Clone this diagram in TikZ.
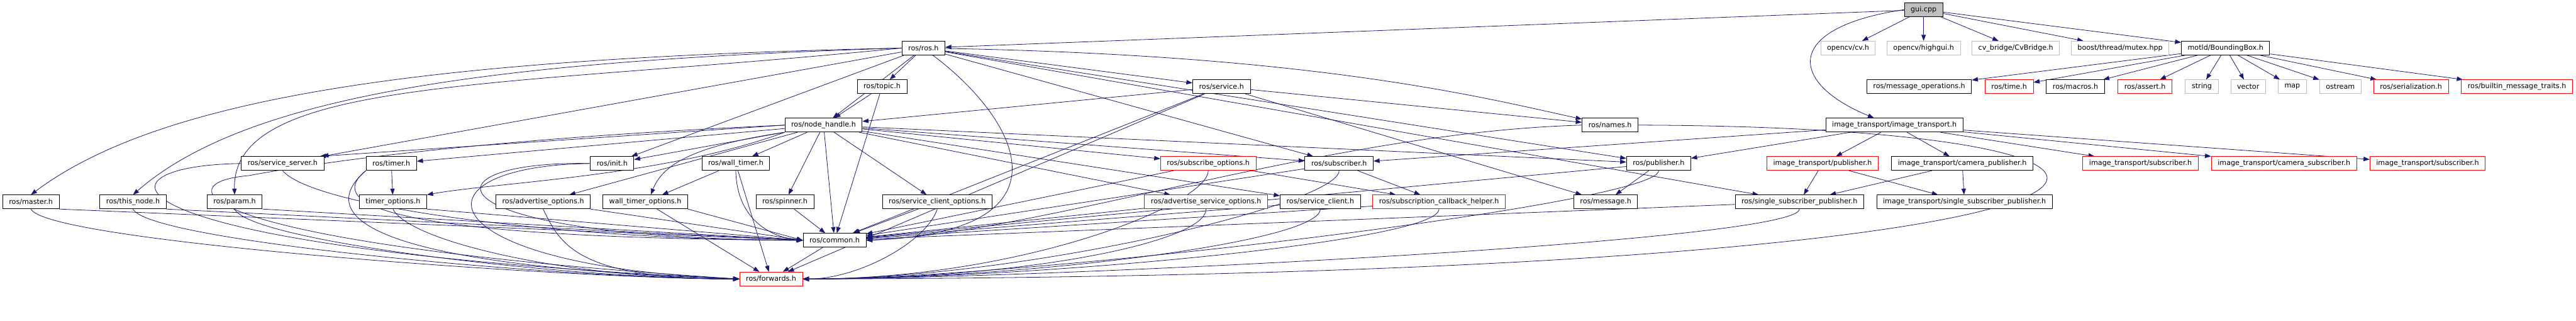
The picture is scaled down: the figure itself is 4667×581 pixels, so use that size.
\documentclass[tikz,border=0pt]{standalone}
\usepackage{fontspec}
\setmainfont{DejaVu Sans}
\usepackage{xcolor}
\usepackage{tikz}
\usetikzlibrary{arrows.meta, backgrounds}
\definecolor{edgeblue}{RGB}{25, 25, 112}
\definecolor{extgray}{RGB}{191, 191, 191}
\definecolor{truncred}{RGB}{255, 0, 0}

\begin{document}
\begin{tikzpicture}[
    x=1pt, y=1pt,
    hdr/.style={rectangle, draw=black, fill=white, line width=1pt, minimum height=25pt, inner xsep=11.5pt, inner ysep=0pt, font=\fontsize{12.7pt}{15pt}\selectfont},
    trunc/.style={hdr, draw=truncred},
    ext/.style={hdr, draw=extgray},
    root/.style={hdr, fill=extgray},
    arrow/.style={-{Triangle[length=11pt, width=8pt]}, draw=edgeblue, line width=0.9pt}
]
    \useasboundingbox (0,0) rectangle (4667,-581);

    \node[root] (gui) at (3485,-17.5) {gui.cpp};

    \node[hdr] (ros) at (1673,-87) {ros/ros.h};
    \node[ext] (cv) at (3348,-87) {opencv/cv.h};
    \node[ext] (highgui) at (3485,-87) {opencv/highgui.h};
    \node[ext] (cvbridge) at (3652,-87) {cv\_bridge/CvBridge.h};
    \node[ext] (mutex) at (3841,-87) {boost/thread/mutex.hpp};
    \node[hdr] (bbox) at (4032,-87) {motld/BoundingBox.h};

    \node[hdr] (topic) at (1598,-157) {ros/topic.h};
    \node[hdr] (service) at (2213,-157) {ros/service.h};
    \node[hdr] (msgops) at (3477,-157) {ros/message\_operations.h};
    \node[trunc] (time) at (3640,-157) {ros/time.h};
    \node[hdr] (macros) at (3760,-157) {ros/macros.h};
    \node[trunc] (assert) at (3886,-157) {ros/assert.h};
    \node[ext] (string) at (3989,-157) {string};
    \node[ext] (vector) at (4073,-157) {vector};
    \node[ext] (map) at (4153,-157) {map};
    \node[ext] (ostream) at (4240,-157) {ostream};
    \node[trunc] (serial) at (4368,-157) {ros/serialization.h};
    \node[trunc] (traits) at (4560,-157) {ros/builtin\_message\_traits.h};

    \node[hdr] (nh) at (1492,-226.5) {ros/node\_handle.h};
    \node[hdr] (names) at (2917,-226.5) {ros/names.h};
    \node[hdr] (itrans) at (3432,-226.5) {image\_transport/image\_transport.h};

    \node[hdr] (srvserver) at (512,-296) {ros/service\_server.h};
    \node[hdr] (timer) at (709,-296) {ros/timer.h};
    \node[hdr] (init) at (1109,-296) {ros/init.h};
    \node[hdr] (walltimer) at (1333,-296) {ros/wall\_timer.h};
    \node[trunc] (subopts) at (2189,-296) {ros/subscribe\_options.h};
    \node[hdr] (sub) at (2426,-296) {ros/subscriber.h};
    \node[hdr] (pub) at (3005,-296) {ros/publisher.h};
    \node[trunc] (itpub) at (3302,-296) {image\_transport/publisher.h};
    \node[hdr] (itcampub) at (3555,-296) {image\_transport/camera\_publisher.h};
    \node[trunc] (itsuba) at (3878,-296) {image\_transport/subscriber.h};
    \node[trunc] (itcamsub) at (4138,-296) {image\_transport/camera\_subscriber.h};
    \node[trunc] (itsubb) at (4398,-296) {image\_transport/subscriber.h};

    \node[hdr] (master) at (56,-365.5) {ros/master.h};
    \node[hdr] (thisnode) at (241,-365.5) {ros/this\_node.h};
    \node[hdr] (param) at (425,-365.5) {ros/param.h};
    \node[hdr] (timeropts) at (712,-365.5) {timer\_options.h};
    \node[hdr] (advopts) at (984,-365.5) {ros/advertise\_options.h};
    \node[hdr] (walltimeropts) at (1169,-365.5) {wall\_timer\_options.h};
    \node[hdr] (spinner) at (1422,-365.5) {ros/spinner.h};
    \node[hdr] (srvclientopts) at (1698,-365.5) {ros/service\_client\_options.h};
    \node[trunc] (advsrvopts) at (2185,-365.5) {ros/advertise\_service\_options.h};
    \node[hdr] (srvclient) at (2392,-365.5) {ros/service\_client.h};
    \node[trunc] (subcbhelper) at (2607,-365.5) {ros/subscription\_callback\_helper.h};
    \node[hdr] (message) at (2909,-365.5) {ros/message.h};
    \node[hdr] (ssp) at (3260,-365.5) {ros/single\_subscriber\_publisher.h};
    \node[hdr] (itssp) at (3559,-365.5) {image\_transport/single\_subscriber\_publisher.h};

    \node[hdr] (common) at (1512,-435) {ros/common.h};
    \node[trunc] (fwd) at (1397,-505) {ros/forwards.h};

    \begin{scope}[on background layer]
    \foreach \dst in {ros, cv, highgui, cvbridge, mutex, bbox}
        \draw[arrow] (gui) -- (\dst);
    \draw[arrow] (gui.west) .. controls (3230,-50) and (3240,-150) .. ([xshift=-37pt]itrans.north);

    \foreach \dst in {msgops, time, macros, assert, string, vector, map, ostream, serial, traits}
        \draw[arrow] (bbox) -- (\dst);

    \foreach \dst in {itpub, itcampub, itsuba, itcamsub, itsubb, sub, pub}
        \draw[arrow] (itrans) -- (\dst);
    \foreach \src in {itpub, itcampub} {
        \draw[arrow] (\src) -- (ssp);
        \draw[arrow] (\src) -- (itssp);
    }

    \draw[arrow] (ros.west) .. controls (800,-105) and (300,-170) .. (master.north);
    \draw[arrow] (ros.west) .. controls (900,-110) and (450,-170) .. (thisnode.north);
    \draw[arrow] (ros.west) .. controls (900,-160) and (420,-140) .. (param.north);
    \foreach \dst in {srvserver, init, nh, topic, service, sub, pub, ssp}
        \draw[arrow] (ros) -- (\dst);
    \draw[arrow] (ros) .. controls (2400,-100) and (2700,-180) .. (names);
    \draw[arrow] ([xshift=17pt]ros.south) .. controls (1850,-220) and (1950,-420) .. (common.east);

    \draw[arrow] (topic) -- (nh);
    \draw[arrow] (topic) -- (common);
    \foreach \dst in {nh, names, message, common, fwd}
        \draw[arrow] (service) -- (\dst);

    \foreach \dst in {init, timer, walltimer, spinner, common, advopts, srvclientopts, subopts, advsrvopts, srvclient, sub, pub}
        \draw[arrow] (nh) -- (\dst);
    \draw[arrow] (nh.west) -- ([xshift=-8pt]srvserver.north east);
    \draw[arrow] (nh.south west) .. controls (1200,-320) and (900,-330) .. (timeropts.north east);
    \draw[arrow] (nh.south west) .. controls (1250,-265) and (1200,-300) .. ([xshift=10pt]walltimeropts.north);
    \draw[arrow] (nh.west) .. controls (900,-250) and (600,-290) .. (450,-318) .. controls (300,-330) and (330,-440) .. (fwd.west);

    \draw[arrow] (timer) -- (timeropts);
    \draw[arrow] (timer.south west) .. controls (600,-360) and (640,-430) .. (common.west);
    \draw[arrow] (timer.south west) .. controls (580,-380) and (620,-480) .. (fwd.west);

    \draw[arrow] (walltimer) -- (walltimeropts);
    \draw[arrow] (walltimer.south) .. controls (1335,-400) and (1400,-430) .. (common.west);
    \draw[arrow] (walltimer) -- (fwd);

    \draw[arrow] (init.west) .. controls (760,-290) and (760,-430) .. (common.west);
    \draw[arrow] (init.west) .. controls (740,-300) and (760,-480) .. (fwd.west);

    \draw[arrow] (srvserver.south) .. controls +(60,-70) and +(-400,0) .. (common.west);
    \draw[arrow] (srvserver.west) .. controls (150,-300) and (160,-450) .. (fwd.west);

    \foreach \src in {master, thisnode, param, timeropts, advopts} {
        \draw[arrow] (\src.south east) -- (common.west);
        \draw[arrow] (\src.south) .. controls +(30,-60) and +(-300,0) .. (fwd.west);
    }
    \draw[arrow] (walltimeropts.south east) -- (common.west);
    \draw[arrow] (walltimeropts) -- (fwd);
    \draw[arrow] (spinner) -- (common);
    \draw[arrow] (srvclientopts) -- (common);
    \draw[arrow] (srvclientopts.south) .. controls +(-20,-60) and +(100,0) .. (fwd.east);

    \foreach \src in {advsrvopts, srvclient, subcbhelper, subopts, sub, pub, ssp} {
        \draw[arrow] (\src) -- (common);
        \draw[arrow] (\src.south) .. controls +(0,-60) and +(400,0) .. (fwd.east);
    }
    \draw[arrow] (subopts) -- (subcbhelper);
    \draw[arrow] (sub) -- (subcbhelper);
    \draw[arrow] (pub) -- (message);
    \draw[arrow] (names.west) .. controls (2400,-240) and (1900,-420) .. (common.east);
    \draw[arrow] (names.east) .. controls (4150,-230) and (4100,-500) .. (fwd.east);
    \draw[arrow] (common) -- (fwd);
    \end{scope}
\end{tikzpicture}
\end{document}
